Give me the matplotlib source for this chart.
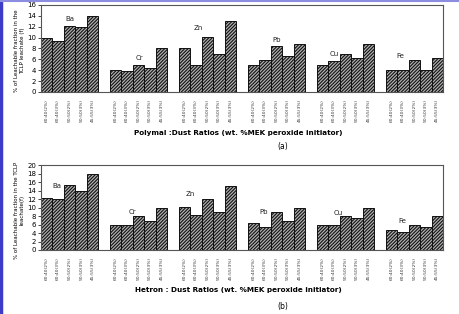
import matplotlib
matplotlib.use("Agg")
import matplotlib.pyplot as plt
from matplotlib.lines import Line2D
import numpy as np

metals = ["Ba", "Cr", "Zn", "Pb", "Cu", "Fe"]
ratios = ["60:40(2%)", "60:40(3%)", "50:50(2%)", "50:50(3%)", "45:55(3%)"]

# Polymal (a)
polymal = [
    [10.0, 9.3, 12.2, 12.0, 14.0],   # Ba
    [4.0, 3.8, 5.0, 4.4, 8.0],       # Cr
    [8.0, 5.0, 10.2, 7.0, 13.0],     # Zn
    [4.9, 5.8, 8.4, 6.7, 8.9],       # Pb
    [4.9, 5.7, 7.0, 6.2, 8.9],       # Cu
    [4.0, 4.1, 5.8, 4.1, 6.3],       # Fe
]
# Hetron (b)
hetron = [
    [12.3, 11.9, 15.3, 14.0, 17.8],  # Ba
    [6.0, 6.0, 8.0, 6.9, 10.0],      # Cr
    [10.2, 8.2, 11.9, 9.0, 15.0],    # Zn
    [6.3, 5.5, 9.0, 6.9, 10.0],      # Pb
    [5.8, 6.0, 8.0, 7.6, 10.0],      # Cu
    [4.6, 4.2, 6.0, 5.3, 8.0],       # Fe
]

# metal label positions (x in bar units, y in data)
lab_a = [(2.5, 13.4), (8.6, 6.3), (13.7, 11.7), (20.5, 9.5), (25.5, 6.9), (31.3, 6.6)]
lab_b = [(1.4, 15.1), (8.0, 9.0), (13.0, 13.2), (19.4, 9.0), (25.9, 8.8), (31.5, 6.9)]

plt.rcParams["hatch.linewidth"] = 0.8

fig = plt.figure(figsize=(4.6, 3.14), dpi=100)


def panel(rect, data, labels, ymax, ylabel, xlabel, tag, tag_y):
    ax = fig.add_axes(rect)
    xs, hs, ticks = [], [], []
    for g, vals in enumerate(data):
        for i, v in enumerate(vals):
            xs.append(g * 6 + i)
            hs.append(v)
            ticks.append(ratios[i])
    ax.bar(xs, hs, width=1.0, align="edge", facecolor="#b0b0b0",
           edgecolor="#111111", linewidth=0.7, hatch="//////////")
    for m, (lx, ly) in zip(metals, labels):
        ax.text(lx, ly, m, fontsize=5, ha="center", va="center", color="#222222")
    ax.set_xlim(0, 35)
    ax.set_ylim(0, ymax)
    ax.set_yticks(np.arange(0, ymax + 1, 2))
    ax.tick_params(axis="y", labelsize=5, length=2, width=0.5, pad=1.5)
    ax.set_xticks(np.array(xs) + 0.5)
    ax.set_xticklabels(ticks, rotation=90, fontsize=3.2, color="#333333")
    ax.tick_params(axis="x", length=0, pad=5)
    for s in ax.spines.values():
        s.set_linewidth(0.8)
        s.set_color("#555555")
    ax.set_ylabel(ylabel, fontsize=4.0, fontweight="medium", linespacing=1.2)
    ax.yaxis.set_label_coords(-0.04, 0.47)
    ax.set_xlabel(xlabel, fontsize=5.2, fontweight="bold", labelpad=5)
    ax.xaxis.set_label_coords(0.49, -0.44)
    fig.text(283 / 460, 1 - tag_y / 314, tag, fontsize=5.5, ha="center", va="center")
    return ax


panel([41 / 460, 1 - 92 / 314, 402 / 460, 87 / 314], polymal, lab_a, 16,
      "% of Leachable fraction in the\nTCLP leachate (f)",
      "Polymal :Dust Ratios (wt. %MEK peroxide initiator)", "(a)", 146)
panel([41 / 460, 1 - 250 / 314, 402 / 460, 85 / 314], hetron, lab_b, 20,
      "% of Leachable fraction in the TCLP\nleachate(f)",
      "Hetron : Dust Ratios (wt. %MEK peroxide initiator)", "(b)", 307)

# blue frame edges of the scan
fig.add_artist(Line2D([0.002, 0.002], [0, 1], color="#3c3cc8", linewidth=2.5,
                      transform=fig.transFigure))
fig.add_artist(Line2D([0, 1], [0.997, 0.997], color="#8c8ce0", linewidth=1.5,
                      transform=fig.transFigure))

fig.savefig("out.png", dpi=100)
